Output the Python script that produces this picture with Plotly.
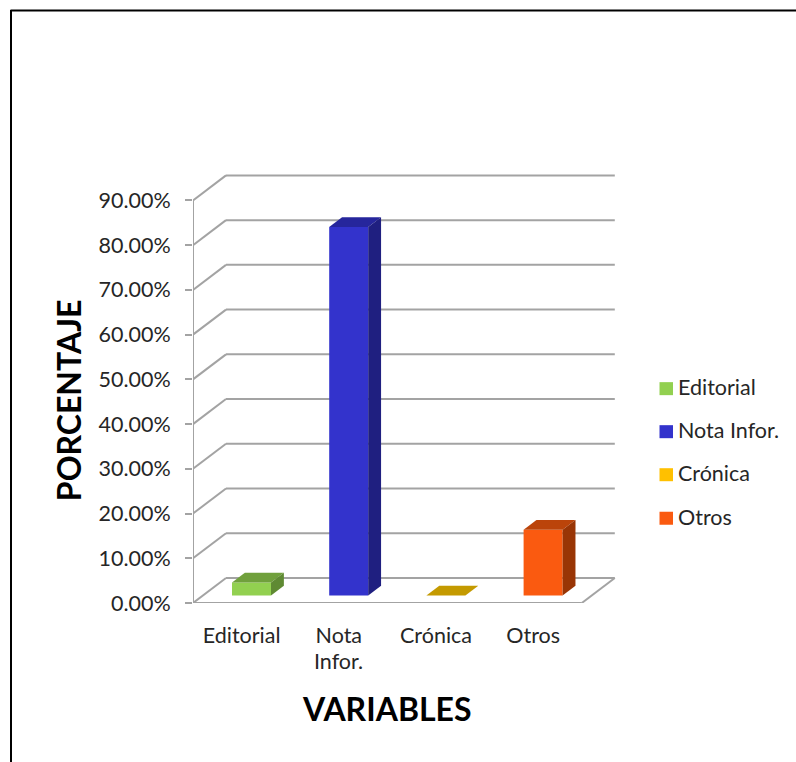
import plotly.graph_objects as go

# ---- data ----
categories = ["Editorial", "Nota Infor.", "Crónica", "Otros"]
values = [2.9, 82.4, 0.0, 14.7]
axis_labels_line1 = ["Editorial", "Nota", "Crónica", "Otros"]
axis_labels_line2 = ["", "Infor.", "", ""]
tick_values = [0, 10, 20, 30, 40, 50, 60, 70, 80, 90]
tick_labels = ["0.00%", "10.00%", "20.00%", "30.00%", "40.00%", "50.00%",
               "60.00%", "70.00%", "80.00%", "90.00%"]

# ---- style ----
front_colors = ["#92D050", "#3333CC", "#FFC000", "#FA5A10"]
side_colors = ["#5F8A33", "#1F1F80", "#A67F00", "#993505"]
top_colors = ["#70A03C", "#26269C", "#C49A00", "#BB440A"]
legend_colors = ["#92D050", "#3333CC", "#FFC000", "#FA5A10"]
GRID = "#A3A3A3"
FONT = "Lato"
TEXT = "#262626"
AXIS_SIZE = 21.5
TITLE_SIZE = 32

W, H = 796, 762
L, R, T, B = 193.0, 622.0, 165.0, 602.7
PX_X = 97.2   # pixels per category
PX_Y = 4.47   # pixels per percent

# depth of the fake 3-D box, in data units
DX, DY = 33 / PX_X, 25 / PX_Y
BAR_WIDTH = 39 / PX_X
BAR_POS = 0.30      # where bars stand in the depth of the floor
BAR_DEPTH = 0.39    # how deep bars are


def pxx(p):
    return (p - L) / (R - L)


def pxy(p):
    return (B - p) / (B - T)


n = len(categories)
fig = go.Figure()

centers = [i + 0.5 + BAR_POS * DX for i in range(n)]
base = BAR_POS * DY

for i, cat in enumerate(categories):
    fig.add_trace(go.Bar(
        x=[centers[i]], y=[values[i]], base=[base], width=BAR_WIDTH,
        marker=dict(color=front_colors[i], line=dict(width=0)),
        name=cat, showlegend=False, hoverinfo="name+y"))

for i, cat in enumerate(categories):
    x0 = centers[i] - BAR_WIDTH / 2
    x1 = centers[i] + BAR_WIDTH / 2
    y0 = base
    y1 = base + values[i]
    dx = BAR_DEPTH * DX
    dy = BAR_DEPTH * DY
    # top face
    fig.add_trace(go.Scatter(
        x=[x0, x1, x1 + dx, x0 + dx, x0], y=[y1, y1, y1 + dy, y1 + dy, y1],
        mode="lines", fill="toself", fillcolor=top_colors[i],
        line=dict(width=0, color=top_colors[i]), showlegend=False, hoverinfo="skip"))
    # right side face
    if values[i] > 0:
        fig.add_trace(go.Scatter(
            x=[x1, x1 + dx, x1 + dx, x1, x1], y=[y0, y0 + dy, y1 + dy, y1, y0],
            mode="lines", fill="toself", fillcolor=side_colors[i],
            line=dict(width=0, color=side_colors[i]), showlegend=False, hoverinfo="skip"))

shapes = []


def seg(x0, y0, x1, y1):
    shapes.append(dict(type="line", xref="x", yref="y", x0=x0, y0=y0, x1=x1, y1=y1,
                       layer="below", line=dict(color=GRID, width=2)))


for v in tick_values:
    seg(0, v, DX, v + DY)            # left wall
    seg(DX, v + DY, n + DX, v + DY)  # back wall
seg(0, 0, 0, tick_values[-1])        # value axis
seg(0, 0, n, 0)                      # floor front
seg(n, 0, n + DX, DY)                # floor right

# outer frame of the picture
shapes.append(dict(type="line", xref="paper", yref="paper",
                   x0=pxx(10.5), x1=pxx(W), y0=pxy(10.5), y1=pxy(10.5),
                   line=dict(color="#000000", width=2)))
shapes.append(dict(type="line", xref="paper", yref="paper",
                   x0=pxx(11), x1=pxx(11), y0=pxy(10), y1=pxy(H),
                   line=dict(color="#000000", width=2)))

annotations = []
# second line of the category labels
for i, t in enumerate(axis_labels_line2):
    if t:
        annotations.append(dict(text=t, xref="x", x=i + 0.5, yref="paper", y=pxy(661),
                                showarrow=False, font=dict(family=FONT, size=AXIS_SIZE, color=TEXT),
                                xanchor="center", yanchor="middle"))
# axis titles
annotations.append(dict(text="<b>VARIABLES</b>", xref="paper", yref="paper",
                        x=pxx(387), y=pxy(708), showarrow=False,
                        xanchor="center", yanchor="middle",
                        font=dict(family=FONT, size=TITLE_SIZE, color="#000000")))
annotations.append(dict(text="<b>PORCENTAJE</b>", xref="paper", yref="paper",
                        x=pxx(68), y=pxy(401), showarrow=False, textangle=-90,
                        xanchor="center", yanchor="middle",
                        font=dict(family=FONT, size=TITLE_SIZE, color="#000000")))
# legend
legend_y = [388.5, 431.5, 474.5, 518]
for cat, c, y in zip(categories, legend_colors, legend_y):
    shapes.append(dict(type="rect", xref="paper", yref="paper",
                       x0=pxx(659.5), x1=pxx(673), y0=pxy(y - 6.5), y1=pxy(y + 6.5),
                       fillcolor=c, line=dict(width=0)))
    annotations.append(dict(text=cat, xref="paper", yref="paper",
                            x=pxx(675.5), y=pxy(y - 1.5), xanchor="left", yanchor="middle",
                            showarrow=False, font=dict(family=FONT, size=AXIS_SIZE, color=TEXT)))

fig.update_layout(
    width=W, height=H, autosize=False,
    margin=dict(l=L, r=W - R, t=T, b=H - B, pad=0),
    paper_bgcolor="#FFFFFF", plot_bgcolor="#FFFFFF",
    showlegend=False, barmode="overlay",
    shapes=shapes, annotations=annotations,
    font=dict(family=FONT, size=AXIS_SIZE, color=TEXT),
    xaxis=dict(range=[0, (R - L) / PX_X], tickmode="array",
               tickvals=[i + 0.5 for i in range(n)], ticktext=axis_labels_line1,
               showgrid=False, zeroline=False, showline=False, ticks="",
               ticklabelstandoff=17, tickfont=dict(family=FONT, size=AXIS_SIZE, color=TEXT)),
    yaxis=dict(range=[0, (B - T) / PX_Y], tickmode="array",
               tickvals=tick_values, ticktext=tick_labels,
               showgrid=False, zeroline=False, showline=False,
               ticks="outside", ticklen=7, tickwidth=2, tickcolor=GRID,
               ticklabelstandoff=10, tickfont=dict(family=FONT, size=AXIS_SIZE, color=TEXT)),
)

fig.write_html("out.html", config=dict(displayModeBar=False), post_script=(
    "document.body.style.margin='0';"
    "document.documentElement.style.overflow='hidden';"))
